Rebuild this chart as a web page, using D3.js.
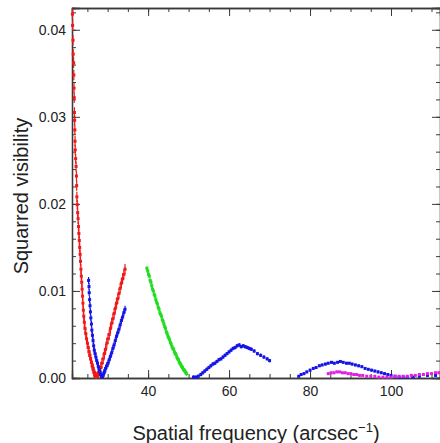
<!DOCTYPE html>
<html><head><meta charset="utf-8">
<script src="https://cdn.jsdelivr.net/npm/d3@7"></script>
<style>
html,body{margin:0;padding:0;background:#fff;}
svg text{font-family:"Liberation Sans",Arial,Helvetica,sans-serif;}
</style></head>
<body><svg id="c" width="440" height="443"></svg>
<script>
// ---- data (spatial frequency in arcsec^-1, squared visibility) ----
const redFreq = [21.3,21.35,21.45,21.5,21.6,21.65,21.7,21.75,21.8,21.85,21.9,21.95,22.0,22.1,22.2,22.3,22.35,22.4,22.5,22.6,22.7,22.8,22.9,23.0,23.1,23.2,23.3,23.4,23.5,23.6,23.7,23.8,23.9,24.0,24.1,24.25,24.4,24.6,24.8,25.0,25.2,25.4,25.6,25.8,26.0,26.2,26.4,26.6,26.8,27.0,27.2,27.5,27.8,28.0,28.3,28.6,28.9,29.2,29.5,29.8,30.1,30.4,30.7,31.0,31.3,31.6,31.9,32.2,32.5,32.8,33.1,33.4,33.7,34.0,34.3];
const redVis  = [.0418,.0405,.0388,.0372,.0362,.0348,.0333,.0322,.0305,.0296,.0285,.0272,.0262,.0252,.0243,.0232,.0221,.0208,.0199,.0190,.0183,.0174,.0166,.0158,.0150,.0142,.0134,.0125,.0117,.0110,.0102,.0094,.0086,.0078,.0071,.0064,.0057,.0051,.0045,.0040,.0035,.0030,.0026,.0022,.0018,.0014,.0011,.0007,.0004,.0002,.0001,.0002,.0005,.0008,.0012,.0017,.0022,.0028,.0033,.0040,.0045,.0050,.0057,.0063,.0068,.0074,.0080,.0086,.0091,.0097,.0103,.0109,.0114,.0119,.0125];
const blue1Freq = [25.3,25.4,25.45,25.55,25.65,25.75,25.85,26.0,26.1,26.25,26.4,26.55,26.7,26.9,27.1,27.3,27.5,27.7,27.9,28.1,28.3,28.5,28.7,28.9,29.1,29.3,29.5,29.8,30.1,30.4,30.7,31.0,31.3,31.6,31.9,32.2,32.5,32.8,33.1,33.4,33.7,34.0,34.3];
const blue1Vis  = [.0112,.0105,.0098,.0090,.0083,.0076,.0069,.0062,.0055,.0049,.0043,.0037,.0032,.0028,.0024,.0020,.0017,.0013,.0010,.0007,.0004,.0002,.0001,.0003,.0006,.0008,.0011,.0014,.0017,.0021,.0025,.0029,.0034,.0038,.0043,.0048,.0052,.0056,.0061,.0066,.0070,.0075,.0079];
const greenFreq = [39.7,39.9,40.1,40.3,40.5,40.7,40.9,41.1,41.3,41.5,41.7,41.9,42.1,42.3,42.5,42.7,42.9,43.1,43.3,43.5,43.7,43.9,44.1,44.3,44.5,44.7,44.9,45.1,45.3,45.5,45.7,45.9,46.1,46.3,46.5,46.7,46.9,47.1,47.3,47.5,47.7,47.9,48.1,48.3,48.5,48.7,48.9,49.1,49.3,49.5];
const greenVis  = [.0126,.0123,.0119,.0117,.0112,.0110,.0106,.0102,.0100,.0096,.0094,.0090,.0087,.0085,.0081,.0079,.0075,.0073,.0071,.0067,.0065,.0062,.0059,.0057,.0053,.0051,.0048,.0046,.0044,.0041,.0039,.0036,.0034,.0033,.0030,.0028,.0027,.0024,.0022,.0021,.0018,.0017,.0015,.0013,.0012,.0010,.0009,.0008,.0006,.0005];
const blue2Freq = [51.2,51.8,52.4,53.0,53.5,54.0,54.5,55.0,55.5,56.0,56.5,57.0,57.5,58.0,58.5,59.0,59.5,60.0,60.5,61.0,61.5,62.0,62.5,63.0,63.5,64.0,64.5,65.0,65.5,66.2,67.0,67.8,68.6,69.4,70.0];
const blue2Vis  = [.0001,.0001,.0002,.0004,.0006,.0008,.0010,.0012,.0014,.0016,.0017,.0019,.0021,.0022,.0024,.0026,.0028,.0030,.0032,.0034,.0035,.0037,.0038,.0036,.0037,.0036,.0035,.0034,.0033,.0031,.0028,.0026,.0024,.0022,.0020];
const blue3Freq = [77.2,77.8,78.5,79.2,80.0,80.8,81.5,82.3,83.0,83.8,84.5,85.3,86.0,86.8,87.5,88.2,89.0,89.7,90.4,91.2,92.0,92.8,93.6,94.4,95.2,96.0,96.8,97.6,98.4,99.2,100.0,101,102,103,104,105.5,107,109,111];
const blue3Vis  = [.0002,.0004,.0005,.0007,.0009,.0011,.0012,.0014,.0015,.0016,.0017,.0018,.0017,.0018,.0019,.0018,.0017,.0017,.0016,.0015,.0014,.0013,.0011,.0010,.0009,.0008,.0007,.0006,.0005,.0004,.0003,.0002,.0001,.0001,.0001,.0001,.0002,.0003,.0003];
const magFreq = [84.5,85.2,85.9,86.6,87.3,88.0,88.7,89.4,90.1,90.8,91.5,92.2,93.0,94.0,95.0,96.0,97.0,98.0,99.0,100.0,101,102,103,104,105,106,107,108,109,110,111,111.8];
const magVis  = [.0005,.0006,.0006,.0007,.0007,.0006,.0006,.0005,.0005,.0004,.0004,.0003,.0003,.0002,.0002,.0002,.0001,.0001,.0001,.0001,.0002,.0002,.0002,.0002,.0003,.0003,.0004,.0004,.0005,.0005,.0006,.0006];
const seriesNames  = ["red","blue1","green","blue2","blue3","magenta"];
const seriesErr    = [0.0006,0.0004,0.00025,0.0002,0.00015,0.00012];
const xTickValues  = [40,60,80,100];
const yTickValues  = [0.00,0.01,0.02,0.03,0.04];
const yTickLabels  = ["0.00","0.01","0.02","0.03","0.04"];
const xTitle = "Spatial frequency (arcsec";
const yTitle = "Squarred visibility";

const colors = {red:"#f01818", blue1:"#1414e6", green:"#22dd22", blue2:"#1414e6", blue3:"#1414e6", magenta:"#e020e0"};
const seriesData = {
  red: [redFreq, redVis], blue1:[blue1Freq, blue1Vis], green:[greenFreq, greenVis],
  blue2:[blue2Freq, blue2Vis], blue3:[blue3Freq, blue3Vis], magenta:[magFreq, magVis]
};

const L = 72, R = 440, T = 8, B = 378;
const svg = d3.select("#c");
const x = d3.scaleLinear().domain([21.2, 112.1]).range([L, R]);
const y = d3.scaleLinear().domain([0, 0.0425]).range([B, T]);

const axisColor = "#3a3a3a";
function styleAxis(g){
  g.attr("font-size", 14).attr("font-family", null);
  g.selectAll("path.domain").attr("stroke", axisColor).attr("stroke-width", 1.3);
  g.selectAll(".tick line").attr("stroke", axisColor).attr("stroke-width", 1);
  g.selectAll(".tick text").attr("fill", "#222").style("font-size", "14px");
}
const xMinor = d3.range(25, 112, 5);
const yMinor = d3.range(0, 0.0425, 0.002);

// bottom
svg.append("g").attr("transform", `translate(0,${B})`)
  .call(d3.axisBottom(x).tickValues(xMinor).tickSize(-4).tickFormat(""))
  .call(styleAxis);
svg.append("g").attr("transform", `translate(0,${B})`)
  .call(d3.axisBottom(x).tickValues(xTickValues).tickSize(-8).tickPadding(8).tickFormat(d3.format("d")))
  .call(styleAxis);
// top
svg.append("g").attr("transform", `translate(0,${T})`)
  .call(d3.axisTop(x).tickValues(xMinor).tickSize(-4).tickFormat(""))
  .call(styleAxis);
svg.append("g").attr("transform", `translate(0,${T})`)
  .call(d3.axisTop(x).tickValues(xTickValues).tickSize(-8).tickFormat(""))
  .call(styleAxis);
// left
svg.append("g").attr("transform", `translate(${L},0)`)
  .call(d3.axisLeft(y).tickValues(yMinor).tickSize(-4).tickFormat(""))
  .call(styleAxis);
svg.append("g").attr("transform", `translate(${L},0)`)
  .call(d3.axisLeft(y).tickValues(yTickValues).tickSize(-8).tickPadding(6).tickFormat((d,i)=>yTickLabels[i]))
  .call(styleAxis);
// right
svg.append("g").attr("transform", `translate(${R},0)`)
  .call(d3.axisRight(y).tickValues(yMinor).tickSize(-4).tickFormat(""))
  .call(styleAxis);
svg.append("g").attr("transform", `translate(${R},0)`)
  .call(d3.axisRight(y).tickValues(yTickValues).tickSize(-8).tickFormat(""))
  .call(styleAxis);

// data
const plot = svg.append("g");
seriesNames.forEach((name, si) => {
  const [fx, fv] = seriesData[name];
  const pts = fx.map((f, i) => ({f, v: fv[i]}));
  const err = seriesErr[si];
  const g = plot.append("g").attr("fill", colors[name]).attr("stroke", colors[name]);
  g.selectAll("line").data(pts).join("line")
    .attr("x1", d => x(d.f)).attr("x2", d => x(d.f))
    .attr("y1", d => y(Math.max(0, d.v - err))).attr("y2", d => y(d.v + err))
    .attr("stroke-width", 1.2);
  g.selectAll("rect").data(pts).join("rect")
    .attr("x", d => x(d.f) - 1.5).attr("y", d => y(d.v) - 1.5)
    .attr("width", 3).attr("height", 3).attr("stroke", "none");
});

// titles
const xt = svg.append("text").attr("x", 256).attr("y", 440).attr("text-anchor", "middle")
  .style("font-size", "20px").attr("fill", "#222");
xt.append("tspan").text(xTitle);
xt.append("tspan").attr("dy", -8).style("font-size", "13px").text("\u2212" + "1");
xt.append("tspan").attr("dy", 8).text(")");

svg.append("text").attr("transform", "translate(28,196) rotate(-90)")
  .attr("text-anchor", "middle").style("font-size", "20px").attr("fill", "#222").text(yTitle);
</script></body></html>
